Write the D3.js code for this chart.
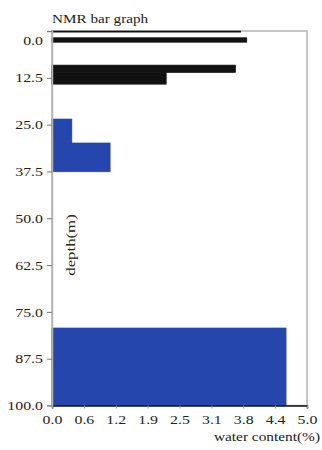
<!DOCTYPE html>
<html>
<head>
<meta charset="utf-8">
<script src="https://cdn.jsdelivr.net/npm/d3@7/dist/d3.min.js"></script>
<style>
  html, body { margin: 0; padding: 0; background: #fff; }
  svg { display: block; }
  text { font-family: "Liberation Serif", "DejaVu Serif", serif; fill: #222; }
</style>
</head>
<body>
<svg id="chart" width="322" height="450"></svg>
<script>
// NMR water content by depth interval
const depthTop     = [0.0, 1.8, 9.1, 11.1, 23.5, 29.9, 79.3];
const depthBottom  = [0.3, 3.0, 11.1, 14.2, 29.9, 37.6, 100.0];
const waterContent = [3.70, 3.82, 3.60, 2.24, 0.39, 1.14, 4.59];
const layerGroup   = ["upper", "upper", "upper", "upper", "lower", "lower", "lower"];

const yTickValues = [0, 12.5, 25, 37.5, 50, 62.5, 75, 87.5, 100];
const yTickLabels = ["0.0", "12.5", "25.0", "37.5", "50.0", "62.5", "75.0", "87.5", "100.0"];
const xTickValues = [0, 0.625, 1.25, 1.875, 2.5, 3.125, 3.75, 4.375, 5.0];
const xTickLabels = ["0.0", "0.6", "1.2", "1.9", "2.5", "3.1", "3.8", "4.4", "5.0"];

const svg = d3.select("#chart");
const plotLeft = 52, plotRight = 307, plotTop = 31, plotBottom = 405.5;
const stretch = 1.22; // wide text face

const x = d3.scaleLinear().domain([0, 5]).range([plotLeft, plotRight]);
const y = d3.scaleLinear().domain([0, 100]).range([plotTop, plotBottom]);
const color = d3.scaleOrdinal().domain(["upper", "lower"]).range(["#111111", "#2546ad"]);

// plot frame
svg.append("rect")
  .attr("x", plotLeft).attr("y", plotTop)
  .attr("width", plotRight - plotLeft).attr("height", plotBottom - plotTop)
  .attr("fill", "#fff").attr("stroke", "#b4b4b4").attr("stroke-width", 1.5);

// bars
const rows = waterContent.map((v, i) => ({ v, t: depthTop[i], b: depthBottom[i], g: layerGroup[i] }));
svg.append("g").selectAll("rect").data(rows).join("rect")
  .attr("x", x(0))
  .attr("y", d => y(d.t))
  .attr("width", d => x(d.v) - x(0))
  .attr("height", d => y(d.b) - y(d.t))
  .attr("fill", d => color(d.g))
  .attr("stroke", d => color(d.g))
  .attr("stroke-width", 0.6);

// bottom axis
const xAxis = d3.axisBottom(x)
  .tickValues(xTickValues)
  .tickFormat((d, i) => xTickLabels[i])
  .tickSize(3).tickPadding(6);
const gx = svg.append("g").attr("transform", `translate(0,${plotBottom})`).call(xAxis);
gx.select(".domain").attr("stroke", "#111").attr("stroke-width", 1.5);
gx.selectAll(".tick line").attr("stroke", "#999");
gx.selectAll(".tick text").attr("font-size", 13).attr("fill", "#222")
  .attr("transform", `scale(${stretch},1)`)
  .style("font-family", "'Liberation Serif', serif");

// left axis
const yAxis = d3.axisLeft(y)
  .tickValues(yTickValues)
  .tickFormat((d, i) => yTickLabels[i])
  .tickSize(5).tickPadding(4);
const gy = svg.append("g").attr("transform", `translate(${plotLeft},0)`).call(yAxis);
gy.select(".domain").attr("stroke", "#b4b4b4").attr("stroke-width", 1.5);
gy.selectAll(".tick line").attr("stroke", "#777");
gy.selectAll(".tick text").attr("font-size", 13).attr("fill", "#222")
  .attr("x", -9 / stretch)
  .attr("transform", `scale(${stretch},1)`)
  .style("font-family", "'Liberation Serif', serif");
gy.selectAll(".tick").filter(d => d === 0).select("text").attr("dy", "1.05em");

// titles
svg.append("text")
  .attr("transform", `translate(52,23) scale(1.17,1)`)
  .attr("font-size", 13).text("NMR bar graph");
svg.append("text")
  .attr("transform", `translate(75,${245}) rotate(-90) scale(1.4,1)`)
  .attr("text-anchor", "middle").attr("font-size", 12)
  .text("depth(m)");
svg.append("text")
  .attr("transform", `translate(320,441) scale(1.28,1)`)
  .attr("text-anchor", "end").attr("font-size", 12)
  .text("water content(%)");
</script>
</body>
</html>
